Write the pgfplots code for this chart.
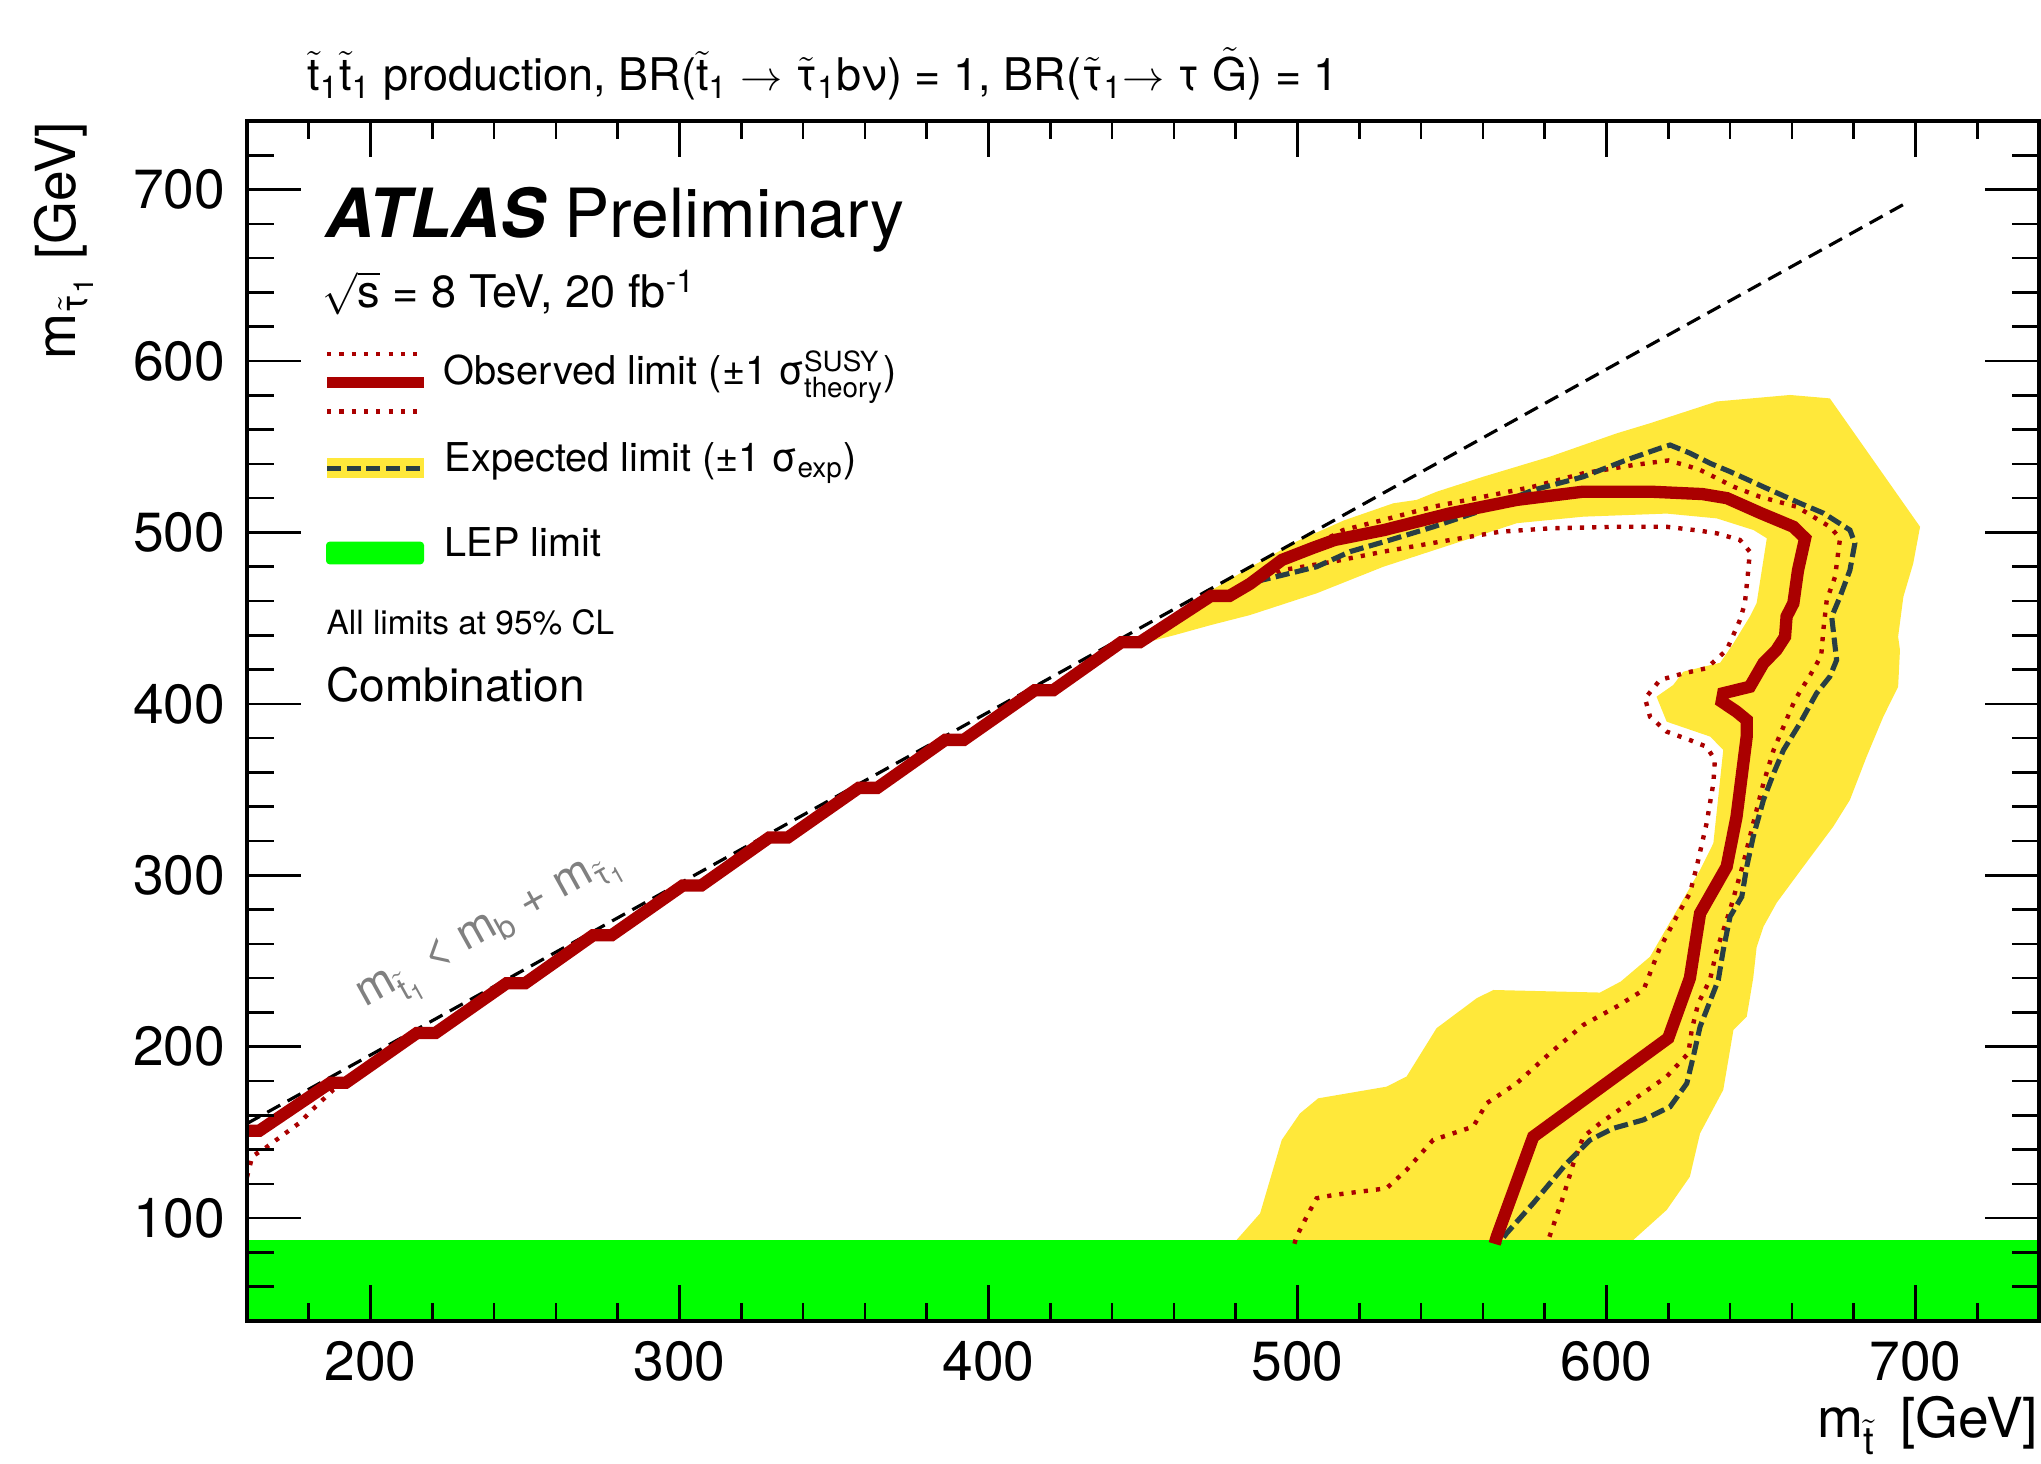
\documentclass[border=0pt]{standalone}
\usepackage{amsmath}
\usepackage{fontspec}
\setmainfont{TeX Gyre Heros}
\usepackage{pgfplots}
\pgfplotsset{compat=1.18}

\definecolor{obsred}{RGB}{170,0,0}
\definecolor{expgray}{RGB}{40,62,68}
\definecolor{bandyellow}{RGB}{255,232,58}
\definecolor{lepgreen}{RGB}{0,255,0}

\newcommand{\fs}[1]{\fontsize{#1pt}{#1pt}\selectfont}
\newcommand{\tsub}[2]{\ensuremath{\tilde{\text{#1}}_{\text{#2}}}}

\pgfplotsset{
  frame/.style={
    scale only axis, width=17.92cm, height=12cm,
    xmin=160, xmax=740, ymin=40, ymax=740,
    tick align=inside,
    axis line style={line width=1pt},
    every tick/.style={black, line width=0.75pt},
    /pgf/number format/assume math mode=true,
    ticklabel style={font=\fs{15.7}},
    no markers,
  },
}

\begin{document}
\begin{tikzpicture}
\path[use as bounding box] (-2.47,-1.42) rectangle (17.94,13.21);

\begin{axis}[frame,
  axis on top,
  xtick={200,300,...,700}, minor xtick={180,200,...,740},
  ytick=\empty,
  major tick length=0.36cm, minor tick length=0.18cm,
  xticklabel style={yshift=-0.075cm},
  xlabel={\ensuremath{\text{m}_{\tilde{\text{t}}}}\ \,[GeV]},
  every axis x label/.style={at={(axis description cs:1,-0.097)}, anchor=base east, inner sep=0pt, font=\fs{15.7}},
]
% expected +-1 sigma band
\addplot[fill=bandyellow, draw=none] coordinates {
(609,84) (608.7,87.3) (619.5,104.8) (627,124.2) (630.3,149.5) (637.8,174.8)
(641.1,209.8) (645.4,217.5) (647.5,240) (648.6,258) (650.8,270) (655.1,284)
(663.7,305) (673.4,328.4) (678.8,344) (684.2,369.2) (689.6,392.5) (694.4,410)
(695,431.4) (694.4,439.2) (696.1,462.5) (699.3,482) (701.5,503.3) (672.3,578.2)
(659.4,580.2) (635.7,576.4) (614.1,563.7) (603.3,557.8) (581.7,544.2) (560.1,532.5)
(545.1,523.8) (538.6,519) (531,517) (515,507) (500,495) (485,480) (470,464)
(455,446) (447,437)
(447,434) (460,440) (472,446) (484.6,451.8) (506.2,464.5) (527.8,480) (549.4,492.7)
(571,505.4) (592.5,509.2) (619.5,511) (635.7,508.2) (647.6,501.4) (651.9,496.6)
(648.6,458.7) (646.4,450.9) (641.1,435.3) (636.8,424) (624.9,418.8) (621.6,411)
(616.2,404.2) (619.5,389.6) (633.6,380.9) (637.8,373.1) (634.6,318.7) (630.3,303.1)
(621.6,275.9) (614.1,252.5) (604.6,238) (597.9,231.6) (563.4,233.1) (558,228.3)
(545,210.8) (535.3,182.6) (528.8,176.7) (506.7,169.9) (500.8,161.1) (494.9,145.6)
(487.9,102.8) (480.3,87.3) (479,84)
};
% LEP limit
\addplot[fill=lepgreen, draw=none] coordinates {(160,40) (740,40) (740,87) (160,87)};
% kinematic boundary
\addplot[black, line width=0.9pt, dash pattern=on 4.2pt off 2.4pt] coordinates {(160,155.2) (697,692.2)};
% observed +1 sigma
\addplot[obsred, line width=1.25pt, dash pattern=on 1.2pt off 2.3pt] coordinates {
(160,151) (164,151) (187,179) (192,179) (215,208) (221,208) (244,237) (250,237)
(272,265) (278,265) (301,294) (307,294) (329,322) (335,322) (358,351) (364,351)
(386,379) (392,379) (415,408) (421,408) (443,436) (449,436) (472,463) (478,463)
(484.6,470) (495,484) (505,492) (514.8,501.4) (527.8,507.3) (543.9,515) (560.1,520.8)
(576.3,526.7) (592.5,534.5) (608.7,539.3) (620,542) (625,539.5) (630.3,536.5)
(641.1,526.7) (649.7,520.8) (661.6,515) (672.3,503.3) (675.6,496.6) (674,474.2)
(671.3,460.6) (670.2,443.1) (669.5,428) (666,417) (661,402.3) (657.3,386.7)
(654.1,373.1) (650.8,353.7) (647.5,330.3) (644.3,307) (640,279.8) (635.7,256.4)
(633.5,239) (629.7,225.3) (627.6,209.8) (626.5,196.2) (619.5,182.6) (608.7,169)
(597.9,155.3) (592.5,147.5) (589.3,132) (586,112.5) (581.2,87.3) (580.8,85)
};
% observed -1 sigma
\addplot[obsred, line width=1.25pt, dash pattern=on 1.2pt off 2.3pt] coordinates {
(160,124) (161.7,136) (166,141) (177,155.6) (181,163) (188,175) (192,178)
(215,208) (221,208) (244,237) (250,237)
(272,265) (278,265) (301,294) (307,294) (329,322) (335,322) (358,351) (364,351)
(386,379) (392,379) (415,408) (421,408) (443,436) (449,436) (472,463) (478,463)
(484,468) (495.4,478.1) (511.6,483) (527.8,488.8) (549.4,495.6) (565.5,500.4)
(581.7,502.4) (603.3,503.3) (619.5,503.3) (630.3,501) (635.7,499.5) (643.2,495.6)
(646.4,488.8) (645.9,478) (644.8,458.7) (643.2,448.9) (638.9,431.4) (632.4,420.8)
(624.9,417.8) (617.3,413.9) (612.5,403.2) (614.1,392.5) (619.5,383.8) (627,378.9)
(632.4,375) (635.1,367.3) (634.6,353.7) (632.4,330.3) (629.2,305) (627,289.5)
(622.7,275.9) (617,256.4) (612,233.1) (603.3,223.4) (592.5,212.7) (581.7,196.2)
(570.9,178.6) (561.2,167) (556.9,153.4) (543.9,145.6) (535.3,128.1) (528.8,117.4)
(511.6,113.5) (506.2,111.6) (503,101) (499.7,89.3) (499,85)
};
% expected limit
\addplot[expgray, line width=1.45pt, dash pattern=on 4pt off 1.6pt] coordinates {
(160,151) (164,151) (187,179) (192,179) (215,208) (221,208) (244,237) (250,237)
(272,265) (278,265) (301,294) (307,294) (329,322) (335,322) (358,351) (364,351)
(386,379) (392,379) (415,408) (421,408) (443,436) (449,436) (472,463) (478,463)
(484.6,470) (488.5,472.2) (495.4,475.2) (506.2,480) (517,488.8) (530,495.6)
(544,503.3) (560.1,513.1) (576.3,524.7) (592.5,532.5) (606.5,542.3) (617.3,549.1)
(620.6,551) (627.1,546.2) (633.6,540.3) (640.1,535.4) (651.9,525.7) (662.7,517)
(670.3,511.2) (678.8,501.4) (680.4,493.7) (678.8,478) (675.6,462.5) (672.9,450.9)
(674,433.4) (674.5,425.6) (672.3,415.9) (668,406.2) (662.6,388.6) (657.3,373.1)
(654.1,359.5) (650.8,343.9) (647.5,322.5) (645.4,305) (643.8,287.5) (640,275.9)
(637.8,256.4) (636.2,238.9) (630.3,211.7) (628.1,194.2) (626,178.6) (620.6,165)
(611.9,157.3) (602.2,152.4) (594.7,145.6) (587.1,132) (576.3,108.7) (567.7,91.2)
(565.5,86)
};
% observed limit
\addplot[obsred, line width=3.5pt] coordinates {
(160,151) (164,151) (187,179) (192,179) (215,208) (221,208) (244,237) (250,237)
(272,265) (278,265) (301,294) (307,294) (329,322) (335,322) (358,351) (364,351)
(386,379) (392,379) (415,408) (421,408) (443,436) (449,436) (472,463) (478,463)
(484.6,470) (495,484) (505,491) (512,495.6) (528,501.4) (549,511) (571,519)
(592.5,523.8) (614,523.8) (631,522.4) (639,520) (650,511.2) (660.5,503.3)
(664.3,496.6) (662,478) (660.5,458.7) (658.3,451) (657.8,439.2) (655,431.4)
(650.8,423.7) (646.4,410) (637.8,406.2) (637.3,401.3) (642.1,395.5) (645.4,390.6)
(645.4,381) (642.1,334.2) (638.9,305) (630.3,277.8) (627,240) (620,205)
(576.3,147.5) (564.5,89.2) (563.8,85)
};
\end{axis}

\begin{axis}[frame,
  xtick=\empty,
  ytick={100,200,...,700}, minor ytick={40,60,...,740},
  major tick length=0.54cm, minor tick length=0.27cm,
  yticklabel style={xshift=-0.095cm},
  ylabel={\ensuremath{\text{m}_{\tilde{\text{τ}}_{\text{1}}}}\ [GeV]},
  every axis y label/.style={at={(axis description cs:-0.0957,1)}, anchor=base east, rotate=90, inner sep=0pt, font=\fs{15.7}},
]
\end{axis}

% title and labels
\node[anchor=base west, inner sep=0, font=\fs{12.8}] at (0.6,12.30)
  {\tsub{t}{1}\tsub{t}{1} production, BR(\tsub{t}{1} \ensuremath{\rightarrow} \tsub{τ}{1}bν) = 1, BR(\tsub{τ}{1}\ensuremath{\rightarrow} τ \ensuremath{\tilde{\text{G}}}) = 1};
\node[anchor=base west, inner sep=0, font=\fs{19.3}] at (0.78,10.83)
  {{\bfseries\itshape ATLAS} Preliminary};
\node[anchor=base west, inner sep=0, font=\fs{12.8}] at (0.75,10.13)
  {\ensuremath{\sqrt{\text{s}}} = 8 TeV, 20 fb\textsuperscript{-1}};

% legend
\draw[obsred, line width=1.25pt, dash pattern=on 1.2pt off 2.3pt] (0.80,9.667) -- (1.77,9.667);
\draw[obsred, line width=3.1pt] (0.80,9.383) -- (1.77,9.383);
\draw[obsred, line width=1.25pt, dash pattern=on 1.2pt off 2.3pt] (0.80,9.093) -- (1.77,9.093);
\fill[bandyellow] (0.80,8.427) rectangle (1.77,8.627);
\draw[expgray, line width=1.45pt, dash pattern=on 4pt off 1.6pt] (0.80,8.527) -- (1.77,8.527);
\fill[lepgreen, rounded corners=1pt] (0.79,7.567) rectangle (1.77,7.793);
\node[anchor=base west, inner sep=0, font=\fs{11.3}] at (1.96,9.36)
  {Observed limit (±1 \ensuremath{\text{σ}^{\text{SUSY}}_{\text{theory}}})};
\node[anchor=base west, inner sep=0, font=\fs{11.3}] at (1.97,8.493)
  {Expected limit (±1 \ensuremath{\text{σ}_{\text{exp}}})};
\node[anchor=base west, inner sep=0, font=\fs{11.3}] at (1.97,7.643) {LEP limit};
\node[anchor=base west, inner sep=0, font=\fs{9.5}] at (0.79,6.867) {All limits at 95\% CL};
\node[anchor=base west, inner sep=0, font=\fs{13.1}] at (0.79,6.193) {Combination};

% kinematic boundary label
\node[anchor=base west, inner sep=0, font=\fs{13}, text=gray, rotate=29] at (1.18,3.13)
  {\ensuremath{\text{m}_{\tilde{\text{t}}_{\text{1}}}} < m\ensuremath{_{\text{b}}} + \ensuremath{\text{m}_{\tilde{\text{τ}}_{\text{1}}}}};
\end{tikzpicture}
\end{document}
